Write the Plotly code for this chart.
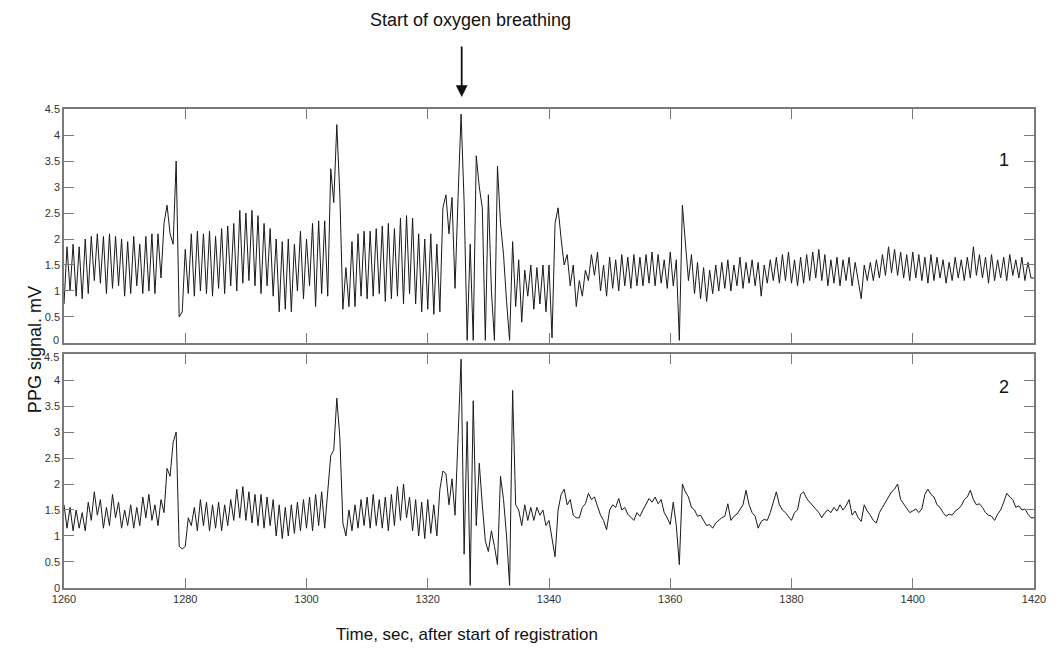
import numpy as np
import plotly.graph_objects as go

# sampling grid of the recordings (seconds after start of registration)
t_start = 1260.0
dt = 0.5

# Channel 1 PPG signal, mV (one value every 0.5 s, 1260 ... 1420 s)
ppg1 = [
    0.75, 1.85, 1.0, 1.9, 0.9, 1.85, 0.85, 2.0, 0.95, 2.05,      # 1260-1264
    1.2, 2.1, 1.15, 2.05, 0.95, 2.1, 1.05, 2.05, 1.1, 2.0,       # 1265-1269
    0.9, 1.95, 0.95, 2.05, 1.1, 1.9, 0.95, 2.05, 1.0, 2.1,       # 1270-1274
    0.95, 2.1, 1.25, 2.3, 2.65, 2.1, 1.9, 3.5, 0.5, 0.6,         # 1275-1279
    1.8, 0.95, 2.1, 0.9, 2.15, 1.0, 2.1, 0.95, 2.15, 0.9,        # 1280-1284
    2.05, 1.05, 2.2, 0.95, 2.25, 1.1, 2.3, 1.0, 2.55, 1.15,      # 1285-1289
    2.5, 1.2, 2.55, 1.1, 2.45, 0.95, 2.3, 1.1, 2.2, 0.9,         # 1290-1294
    2.0, 0.6, 1.95, 0.65, 2.0, 0.6, 1.9, 1.0, 2.15, 0.85,        # 1295-1299
    2.0, 1.1, 2.3, 0.7, 2.35, 0.95, 2.35, 0.9, 3.35, 2.7,        # 1300-1304
    4.2, 2.85, 0.65, 1.45, 0.7, 1.95, 0.7, 2.1, 0.9, 2.15,       # 1305-1309
    0.85, 2.15, 0.9, 2.2, 0.95, 2.25, 0.8, 2.3, 0.85, 2.2,       # 1310-1314
    0.9, 2.4, 0.75, 2.45, 0.95, 2.4, 0.75, 2.1, 0.6, 2.0,        # 1315-1319
    0.65, 2.1, 0.55, 1.9, 0.6, 2.6, 2.85, 2.1, 2.8, 1.05,        # 1320-1324
    2.8, 4.4, 2.7, 0.05, 1.9, 0.05, 3.6, 3.0, 2.6, 0.05,         # 1325-1329
    2.85, 1.0, 0.05, 3.4, 2.3, 1.7, 0.8, 0.05, 1.95, 0.7,        # 1330-1334
    1.6, 0.4, 1.4, 0.9, 1.5, 0.65, 1.45, 0.75, 1.5, 0.6,         # 1335-1339
    1.5, 0.1, 2.3, 2.6, 2.0, 1.5, 1.7, 1.1, 1.5, 0.7,            # 1340-1344
    1.2, 0.9, 1.4, 1.2, 1.7, 1.3, 1.75, 1.0, 1.5, 0.9,           # 1345-1349
    1.65, 1.05, 1.6, 1.0, 1.7, 1.1, 1.65, 1.05, 1.7, 1.1,        # 1350-1354
    1.65, 1.1, 1.7, 1.15, 1.75, 1.1, 1.7, 1.15, 1.6, 1.05,       # 1355-1359
    1.75, 1.1, 1.6, 0.05, 2.65, 1.95, 1.2, 1.7, 0.95, 1.55,      # 1360-1364
    0.85, 1.45, 0.8, 1.4, 0.95, 1.5, 1.0, 1.55, 1.05, 1.6,       # 1365-1369
    1.0, 1.5, 1.1, 1.65, 1.05, 1.55, 1.15, 1.6, 1.1, 1.55,       # 1370-1374
    0.9, 1.5, 1.15, 1.6, 1.2, 1.65, 1.15, 1.7, 1.2, 1.75,        # 1375-1379
    1.15, 1.6, 1.1, 1.65, 1.15, 1.7, 1.2, 1.75, 1.25, 1.8,       # 1380-1384
    1.2, 1.7, 1.1, 1.6, 1.15, 1.65, 1.1, 1.6, 1.2, 1.65,         # 1385-1389
    1.1, 1.55, 1.2, 0.85, 1.5, 1.2, 1.55, 1.2, 1.6, 1.25,        # 1390-1394
    1.7, 1.3, 1.85, 1.35, 1.8, 1.3, 1.75, 1.25, 1.7, 1.2,        # 1395-1399
    1.75, 1.25, 1.7, 1.2, 1.65, 1.15, 1.7, 1.2, 1.65, 1.25,      # 1400-1404
    1.6, 1.15, 1.55, 1.2, 1.65, 1.25, 1.6, 1.2, 1.65, 1.25,      # 1405-1409
    1.85, 1.3, 1.7, 1.25, 1.65, 1.15, 1.7, 1.2, 1.6, 1.25,       # 1410-1414
    1.65, 1.2, 1.7, 1.3, 1.6, 1.25, 1.65, 1.2, 1.55, 1.25,       # 1415-1419
    1.25,                                                         # 1420
]

# Channel 2 PPG signal, mV (one value every 0.5 s, 1260 ... 1420 s)
ppg2 = [
    1.6, 1.15, 1.55, 1.1, 1.5, 1.15, 1.45, 1.1, 1.65, 1.3,       # 1260-1264
    1.85, 1.4, 1.7, 1.15, 1.55, 1.2, 1.8, 1.35, 1.65, 1.15,      # 1265-1269
    1.5, 1.2, 1.6, 1.15, 1.55, 1.2, 1.75, 1.35, 1.8, 1.3,        # 1270-1274
    1.6, 1.2, 1.7, 1.45, 2.3, 2.15, 2.8, 3.0, 0.8, 0.75,         # 1275-1279
    0.8, 1.35, 1.2, 1.55, 1.1, 1.7, 1.2, 1.65, 1.1, 1.6,         # 1280-1284
    1.15, 1.65, 1.1, 1.6, 1.2, 1.7, 1.3, 1.9, 1.35, 1.95,        # 1285-1289
    1.3, 1.85, 1.25, 1.8, 1.2, 1.8, 1.15, 1.75, 1.2, 1.7,        # 1290-1294
    1.0, 1.6, 0.95, 1.55, 1.0, 1.6, 1.05, 1.65, 1.1, 1.7,        # 1295-1299
    1.15, 1.75, 1.1, 1.8, 1.2, 1.85, 1.15, 1.9, 2.55, 2.65,      # 1300-1304
    3.65, 2.9, 1.25, 1.0, 1.5, 1.1, 1.6, 1.15, 1.7, 1.2,         # 1305-1309
    1.75, 1.15, 1.8, 1.2, 1.7, 1.15, 1.75, 1.1, 1.8, 1.2,        # 1310-1314
    1.95, 1.3, 2.0, 1.35, 1.75, 1.1, 1.7, 1.0, 1.65, 0.95,       # 1315-1319
    1.7, 1.05, 1.6, 1.0, 1.9, 2.25, 2.2, 1.6, 2.1, 1.4,          # 1320-1324
    3.0, 4.4, 0.65, 3.2, 0.05, 3.6, 1.2, 2.4, 1.6, 0.9,          # 1325-1329
    0.7, 1.1, 0.8, 0.45, 2.15, 1.7, 1.0, 0.05, 3.8, 1.6,         # 1330-1334
    1.5, 1.2, 1.6, 1.3, 1.55, 1.3, 1.55, 1.4, 1.5, 1.2,          # 1335-1339
    1.3, 0.9, 0.6, 1.5, 1.8, 1.9, 1.6, 1.7, 1.4, 1.35,           # 1340-1344
    1.35, 1.55, 1.62, 1.82, 1.7, 1.75, 1.58, 1.4, 1.3, 1.12,     # 1345-1349
    1.5, 1.6, 1.55, 1.72, 1.5, 1.55, 1.42, 1.35, 1.3, 1.45,      # 1350-1354
    1.38, 1.5, 1.6, 1.72, 1.65, 1.75, 1.62, 1.7, 1.45, 1.35,     # 1355-1359
    1.22, 1.65, 1.2, 0.45, 2.0, 1.85, 1.75, 1.55, 1.5, 1.38,     # 1360-1364
    1.4, 1.3, 1.2, 1.22, 1.15, 1.25, 1.3, 1.35, 1.38, 1.62,      # 1365-1369
    1.3, 1.38, 1.42, 1.5, 1.6, 1.88, 1.6, 1.45, 1.38, 1.15,      # 1370-1374
    1.28, 1.32, 1.3, 1.45, 1.65, 1.85, 1.6, 1.5, 1.45, 1.38,     # 1375-1379
    1.3, 1.45, 1.5, 1.8, 1.85, 1.72, 1.65, 1.6, 1.52, 1.45,      # 1380-1384
    1.35, 1.45, 1.5, 1.45, 1.55, 1.48, 1.6, 1.5, 1.58, 1.7,      # 1385-1389
    1.4, 1.48, 1.35, 1.28, 1.6, 1.48, 1.4, 1.3, 1.25, 1.45,      # 1390-1394
    1.55, 1.65, 1.75, 1.85, 1.9, 2.0, 1.7, 1.62, 1.55, 1.45,     # 1395-1399
    1.48, 1.52, 1.45, 1.52, 1.8, 1.9, 1.8, 1.75, 1.6, 1.55,      # 1400-1404
    1.45, 1.38, 1.42, 1.4, 1.48, 1.52, 1.58, 1.7, 1.75, 1.88,    # 1405-1409
    1.7, 1.6, 1.62, 1.55, 1.45, 1.4, 1.38, 1.3, 1.42, 1.5,       # 1410-1414
    1.65, 1.82, 1.75, 1.7, 1.55, 1.58, 1.5, 1.52, 1.42, 1.35,    # 1415-1419
    1.35,                                                         # 1420
]

x_ticks = [1260, 1280, 1300, 1320, 1340, 1360, 1380, 1400, 1420]
y_ticks = [0, 0.5, 1, 1.5, 2, 2.5, 3, 3.5, 4, 4.5]
y_labels = ["0", "0.5", "1", "1.5", "2", "2.5", "3", "3.5", "4", "4.5"]
oxygen_start = 1325.6

t = t_start + dt * np.arange(len(ppg1))

FONT = "Liberation Sans, Arial, sans-serif"
AXC = "#7a7a7a"
TICKFONT = dict(family=FONT, size=11, color="#333")

fig = go.Figure()
fig.add_trace(go.Scatter(x=t, y=ppg1, mode="lines", xaxis="x", yaxis="y",
                         line=dict(color="#1a1a1a", width=1), showlegend=False))
fig.add_trace(go.Scatter(x=t, y=ppg2, mode="lines", xaxis="x2", yaxis="y2",
                         line=dict(color="#1a1a1a", width=1), showlegend=False))

common_x = dict(range=[1260, 1420], tickvals=x_ticks, ticks="inside", ticklen=10,
                tickcolor=AXC, tickwidth=1.3, mirror="ticks", showline=True,
                linecolor=AXC, linewidth=1.5, showgrid=False, zeroline=False,
                tickfont=TICKFONT)
common_y = dict(range=[0, 4.5], tickvals=y_ticks, ticks="inside", ticklen=10,
                tickcolor=AXC, tickwidth=1.3, mirror="ticks", showline=True,
                linecolor=AXC, linewidth=1.5, showgrid=False, zeroline=False,
                tickfont=TICKFONT)

# the two labels where the panels meet are drawn as annotations, nudged apart
top_labels = [""] + y_labels[1:]
bottom_labels = y_labels[:-1] + [""]

fig.update_layout(
    width=1058, height=652, autosize=False,
    paper_bgcolor="white", plot_bgcolor="white",
    margin=dict(l=64, r=16, t=109, b=64),
    xaxis=dict(domain=[0, 1], anchor="y", showticklabels=False, **common_x),
    yaxis=dict(domain=[0.5115, 1], anchor="x", ticktext=top_labels, **common_y),
    xaxis2=dict(domain=[0, 1], anchor="y2", showticklabels=True, **common_x),
    yaxis2=dict(domain=[0, 0.4885], anchor="x2", ticktext=bottom_labels, **common_y),
    annotations=[
        dict(text=y_labels[0], xref="paper", yref="y", x=0, y=y_ticks[0],
             xanchor="right", yanchor="middle", xshift=-3, yshift=3, showarrow=False,
             font=TICKFONT),
        dict(text=y_labels[-1], xref="paper", yref="y2", x=0, y=y_ticks[-1],
             xanchor="right", yanchor="middle", xshift=-3, yshift=-3, showarrow=False,
             font=TICKFONT),
        dict(text="Start of oxygen breathing", xref="paper", yref="paper",
             x=0.419, y=1.186, xanchor="center", yanchor="middle", showarrow=False,
             font=dict(family=FONT, size=18, color="#111")),
        dict(text="", xref="x", yref="paper", x=oxygen_start, y=1.025,
             ax=0, ay=-52, showarrow=True, arrowhead=2, arrowsize=1.3,
             arrowwidth=1.8, arrowcolor="#111"),
        dict(text="PPG signal. mV", xref="paper", yref="paper",
             x=-0.0297, y=0.497, xanchor="center", yanchor="middle",
             textangle=-90, showarrow=False,
             font=dict(family=FONT, size=18, color="#111")),
        dict(text="Time, sec, after start of registration", xref="paper", yref="paper",
             x=0.415, y=-0.098, xanchor="center", yanchor="middle", showarrow=False,
             font=dict(family=FONT, size=17, color="#111")),
        dict(text="1", xref="x", yref="y", x=1415.1, y=3.52, showarrow=False,
             xanchor="center", yanchor="middle",
             font=dict(family=FONT, size=18, color="#111")),
        dict(text="2", xref="x2", yref="y2", x=1415.1, y=3.87, showarrow=False,
             xanchor="center", yanchor="middle",
             font=dict(family=FONT, size=18, color="#111")),
    ],
)

fig.write_html(
    "out.html",
    config={"displayModeBar": False, "responsive": False},
    post_script="document.body.style.margin='0';"
                "document.documentElement.style.overflow='hidden';",
)
